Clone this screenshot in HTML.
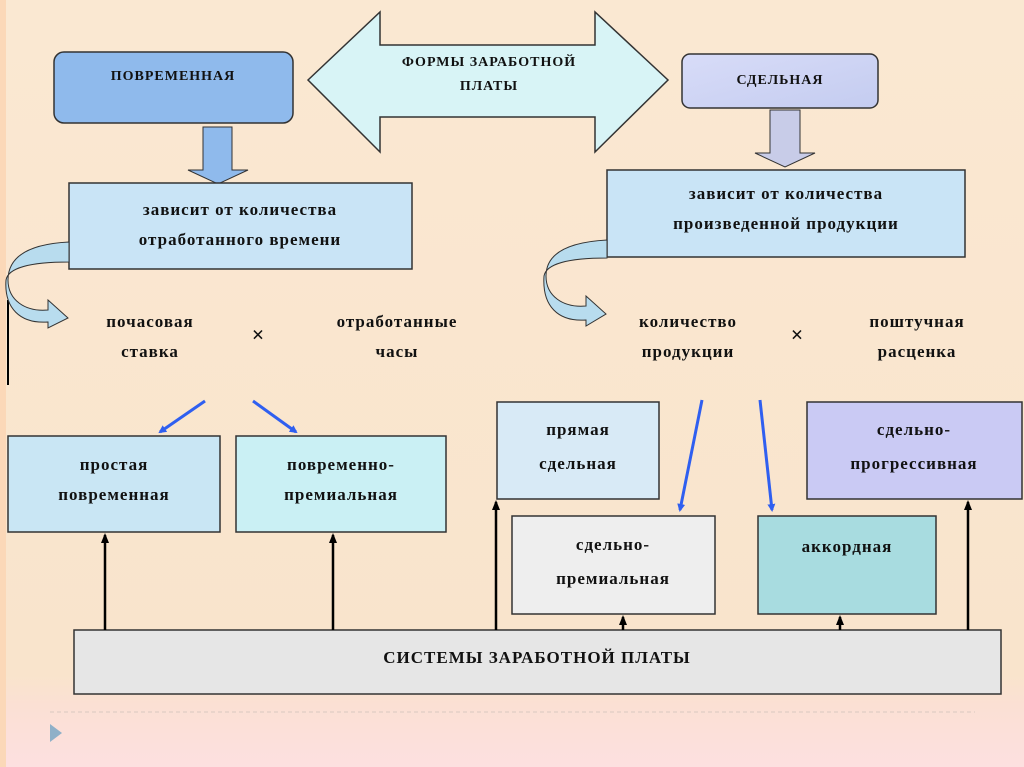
<!DOCTYPE html>
<html><head><meta charset="utf-8"><style>
html,body{margin:0;padding:0;width:1024px;height:767px;overflow:hidden;background:#f9e6d0;}
svg{display:block}
text{font-family:"Liberation Serif","DejaVu Serif",serif;font-weight:bold;fill:#111;}
</style></head><body>
<svg width="1024" height="767" viewBox="0 0 1024 767">
<defs>
<linearGradient id="bg" x1="0" y1="0" x2="0" y2="1"><stop offset="0" stop-color="#fae8d2"/><stop offset="0.88" stop-color="#f9e4cc"/><stop offset="0.92" stop-color="#fbe0d4"/><stop offset="1" stop-color="#fde0e0"/></linearGradient>
<linearGradient id="lav" x1="0" y1="0" x2="1" y2="1"><stop offset="0" stop-color="#d8dcf8"/><stop offset="1" stop-color="#c4ccf0"/></linearGradient>
<marker id="ab" markerWidth="8" markerHeight="8" refX="6" refY="4" orient="auto" markerUnits="userSpaceOnUse"><path d="M0,0 L8,4 L0,8 z" fill="#2f5ff0"/></marker>
<marker id="ak" markerWidth="10" markerHeight="10" refX="8" refY="5" orient="auto" markerUnits="userSpaceOnUse"><path d="M0,1 L10,5 L0,9 z" fill="#000"/></marker>
</defs>
<rect width="1024" height="767" fill="url(#bg)"/>
<rect x="0" y="0" width="6" height="767" fill="#fbd8b8"/>
<line x1="8" y1="300" x2="8" y2="385" stroke="#000" stroke-width="2"/>

<rect x="54" y="52" width="239" height="71" rx="10" fill="#8fbaec" stroke="#333" stroke-width="1.5"/>
<text x="173" y="80" font-size="14" text-anchor="middle" letter-spacing="1">ПОВРЕМЕННАЯ</text>
<path d="M308,80 L380,12 L380,45 L595,45 L595,12 L668,80 L595,152 L595,117 L380,117 L380,152 Z" fill="#d8f4f6" stroke="#333" stroke-width="1.5"/>
<text x="489" y="66" font-size="14" text-anchor="middle" letter-spacing="1">ФОРМЫ ЗАРАБОТНОЙ</text>
<text x="489" y="90" font-size="14" text-anchor="middle" letter-spacing="1">ПЛАТЫ</text>
<rect x="682" y="54" width="196" height="54" rx="8" fill="url(#lav)" stroke="#333" stroke-width="1.5"/>
<text x="780" y="84" font-size="14" text-anchor="middle" letter-spacing="1">СДЕЛЬНАЯ</text>

<path d="M203,127 L232,127 L232,170 L248,170 L218,184 L188,170 L203,170 Z" fill="#8fbaec" stroke="#333"/>
<path d="M770,110 L800,110 L800,153 L815,153 L785,167 L755,153 L770,153 Z" fill="#c8cce8" stroke="#333"/>

<rect x="69" y="183" width="343" height="86" fill="#c9e4f6" stroke="#333" stroke-width="1.5"/>
<text x="240" y="215" font-size="17" text-anchor="middle" letter-spacing="1">зависит от количества</text>
<text x="240" y="245" font-size="17" text-anchor="middle" letter-spacing="1">отработанного времени</text>
<rect x="607" y="170" width="358" height="87" fill="#c9e4f6" stroke="#333" stroke-width="1.5"/>
<text x="786" y="199" font-size="17" text-anchor="middle" letter-spacing="1">зависит от количества</text>
<text x="786" y="229" font-size="17" text-anchor="middle" letter-spacing="1">произведенной продукции</text>

<path d="M69,242 C30,244 8,256 8,280 C8,300 25,312 48,310 L48,300 L68,318 L48,328 L48,322 C20,324 4,308 6,280 C8,268 30,262 69,262 Z" fill="#b8dcee" stroke="#333"/>
<path d="M607,240 C570,242 546,252 546,276 C546,296 563,308 586,306 L586,296 L606,314 L586,326 L586,320 C558,322 542,306 544,276 C546,264 568,258 607,258 Z" fill="#b8dcee" stroke="#333"/>

<g font-size="17" text-anchor="middle" letter-spacing="1">
<text x="150" y="327">почасовая</text><text x="150" y="357">ставка</text>
<text x="397" y="327">отработанные</text><text x="397" y="357">часы</text>
<text x="688" y="327">количество</text><text x="688" y="357">продукции</text>
<text x="917" y="327">поштучная</text><text x="917" y="357">расценка</text>
</g>
<text x="258" y="342" font-size="22" text-anchor="middle" font-weight="normal" font-family="Liberation Sans">×</text>
<text x="797" y="342" font-size="22" text-anchor="middle" font-weight="normal" font-family="Liberation Sans">×</text>

<g stroke="#2f5ff0" stroke-width="3" fill="none">
<line x1="205" y1="401" x2="160" y2="432" marker-end="url(#ab)"/>
<line x1="253" y1="401" x2="296" y2="432" marker-end="url(#ab)"/>
<line x1="702" y1="400" x2="680" y2="510" marker-end="url(#ab)"/>
<line x1="760" y1="400" x2="772" y2="510" marker-end="url(#ab)"/>
</g>

<g letter-spacing="1">
<rect x="8" y="436" width="212" height="96" fill="#c9e6f4" stroke="#333" stroke-width="1.5"/>
<text x="114" y="470" font-size="17" text-anchor="middle">простая</text>
<text x="114" y="500" font-size="17" text-anchor="middle">повременная</text>
<rect x="236" y="436" width="210" height="96" fill="#caf0f4" stroke="#333" stroke-width="1.5"/>
<text x="341" y="470" font-size="17" text-anchor="middle">повременно-</text>
<text x="341" y="500" font-size="17" text-anchor="middle">премиальная</text>
<rect x="497" y="402" width="162" height="97" fill="#d8eaf6" stroke="#333" stroke-width="1.5"/>
<text x="578" y="435" font-size="17" text-anchor="middle">прямая</text>
<text x="578" y="469" font-size="17" text-anchor="middle">сдельная</text>
<rect x="807" y="402" width="215" height="97" fill="#cacaf4" stroke="#333" stroke-width="1.5"/>
<text x="914" y="435" font-size="17" text-anchor="middle">сдельно-</text>
<text x="914" y="469" font-size="17" text-anchor="middle">прогрессивная</text>
<rect x="512" y="516" width="203" height="98" fill="#eeeeee" stroke="#333" stroke-width="1.5"/>
<text x="613" y="550" font-size="17" text-anchor="middle">сдельно-</text>
<text x="613" y="584" font-size="17" text-anchor="middle">премиальная</text>
<rect x="758" y="516" width="178" height="98" fill="#a8dce0" stroke="#333" stroke-width="1.5"/>
<text x="847" y="552" font-size="17" text-anchor="middle">аккордная</text>

<rect x="74" y="630" width="927" height="64" fill="#e6e6e6" stroke="#333" stroke-width="1.5"/>
<text x="537" y="663" font-size="17" text-anchor="middle">СИСТЕМЫ ЗАРАБОТНОЙ ПЛАТЫ</text>
</g>

<g stroke="#000" stroke-width="2.5">
<line x1="105" y1="630" x2="105" y2="535" marker-end="url(#ak)"/>
<line x1="333" y1="630" x2="333" y2="535" marker-end="url(#ak)"/>
<line x1="496" y1="630" x2="496" y2="502" marker-end="url(#ak)"/>
<line x1="623" y1="630" x2="623" y2="617" marker-end="url(#ak)"/>
<line x1="840" y1="630" x2="840" y2="617" marker-end="url(#ak)"/>
<line x1="968" y1="630" x2="968" y2="502" marker-end="url(#ak)"/>
</g>

<line x1="50" y1="712" x2="975" y2="712" stroke="#d8c8c0" stroke-dasharray="4,3"/>
<path d="M50,724 L62,733 L50,742 Z" fill="#8fb0c8"/>
</svg>
</body></html>
